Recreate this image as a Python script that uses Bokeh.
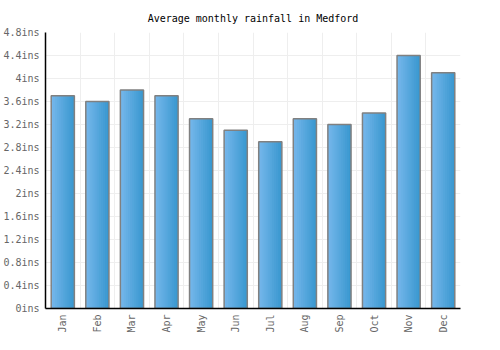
from bokeh.plotting import figure
from bokeh.models import ColumnDataSource, FixedTicker, Range1d
from bokeh.transform import dodge
from bokeh.embed import file_html
from bokeh.resources import INLINE
import math

months = ["Jan", "Feb", "Mar", "Apr", "May", "Jun", "Jul", "Aug", "Sep", "Oct", "Nov", "Dec"]
rainfall = [3.7, 3.6, 3.8, 3.7, 3.3, 3.1, 2.9, 3.3, 3.2, 3.4, 4.4, 4.1]
y_ticks = [0, 0.4, 0.8, 1.2, 1.6, 2, 2.4, 2.8, 3.2, 3.6, 4, 4.4, 4.8]
y_tick_labels = ["0ins", "0.4ins", "0.8ins", "1.2ins", "1.6ins", "2ins", "2.4ins",
                 "2.8ins", "3.2ins", "3.6ins", "4ins", "4.4ins", "4.8ins"]

FONT = "DejaVu Sans Mono"
xs = [i + 0.5 for i in range(len(months))]
source = ColumnDataSource(dict(x=xs, top=rainfall, month=months))

p = figure(width=500, height=350, output_backend="svg", toolbar_location=None,
           x_range=Range1d(0, len(months)), y_range=Range1d(0, 4.8),
           min_border_left=41, min_border_right=40, min_border_top=32, min_border_bottom=42)

p.title.text = "Average monthly rainfall in Medford"
p.title.align = "center"
p.title.text_font = FONT
p.title.text_font_size = "10px"
p.title.text_font_style = "normal"
p.title.text_color = "#000000"
p.title.standoff = 18
p.outline_line_color = None
p.background_fill_color = "white"
p.border_fill_color = "white"

# gradient bars built from strips
bw = 0.67
N = 12
c0 = (0x74, 0xb6, 0xea)
c1 = (0x3a, 0x98, 0xd0)
for k in range(N):
    t = k / (N - 1)
    col = "#%02x%02x%02x" % tuple(int(round(a + (b - a) * t)) for a, b in zip(c0, c1))
    sw = bw / N
    off = -bw / 2 + (k + 0.5) * sw
    w = sw * 1.8 if k < N - 1 else sw
    off2 = off + (w - sw) / 2
    p.vbar(x=dodge("x", off2), top="top", bottom=0, width=w, source=source,
           fill_color=col, line_color=None)
p.vbar(x="x", top="top", bottom=0, width=bw, source=source,
       fill_color=None, line_color="#808080", line_width=1.5)

# grids
p.xgrid.ticker = FixedTicker(ticks=list(range(len(months) + 1)))
p.ygrid.ticker = FixedTicker(ticks=y_ticks)
p.xgrid.grid_line_color = "#eeeeee"
p.ygrid.grid_line_color = "#eeeeee"
p.xgrid.level = "underlay"
p.ygrid.level = "underlay"

# axes
p.xaxis.ticker = FixedTicker(ticks=xs)
p.xaxis.major_label_overrides = {x: m for x, m in zip(xs, months)}
p.xaxis.major_label_orientation = math.pi / 2
p.yaxis.ticker = FixedTicker(ticks=y_ticks)
p.yaxis.major_label_overrides = {t: l for t, l in zip(y_ticks, y_tick_labels)}
for ax in (p.xaxis, p.yaxis):
    ax.axis_line_color = "black"
    ax.axis_line_width = 1.5
    ax.major_tick_line_color = None
    ax.minor_tick_line_color = None
    ax.major_tick_out = 0
    ax.major_tick_in = 0
    ax.major_label_text_font = FONT
    ax.major_label_text_font_size = "10px"
    ax.major_label_text_color = "#666666"
    ax.major_label_standoff = 6

open("out.html", "w").write(file_html(p, INLINE))
